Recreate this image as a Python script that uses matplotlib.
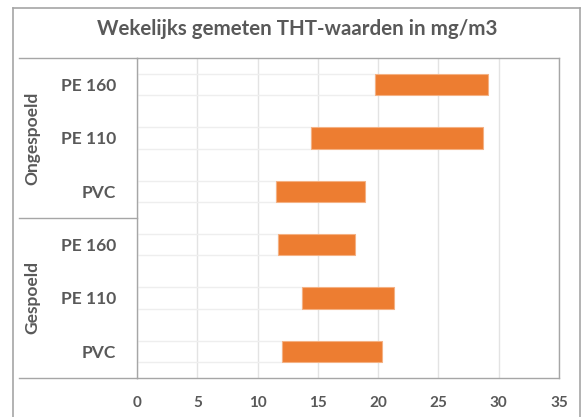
import numpy as np
import matplotlib
matplotlib.use("Agg")
import matplotlib.pyplot as plt
from matplotlib.lines import Line2D
from matplotlib.transforms import blended_transform_factory

# data, top to bottom
categories = ["PE 160", "PE 110", "PVC", "PE 160", "PE 110", "PVC"]
groups = ["Ongespoeld", "Gespoeld"]
low = [19.7, 14.4, 11.5, 11.7, 13.7, 12.0]
high = [29.1, 28.7, 18.9, 18.1, 21.3, 20.3]
xticks = [0, 5, 10, 15, 20, 25, 30, 35]

W, H = 581, 417
txt = "#595959"
line_col = "#a6a6a6"
orange = "#ED7D31"

plt.rcParams['font.family'] = ['Lato', 'DejaVu Sans']

fig = plt.figure(figsize=(W / 100, H / 100), dpi=100)
fig.patch.set_facecolor("white")

# plot area in pixels
x0, x1, y0, y1 = 137, 559, 58, 378
ax = fig.add_axes([x0 / W, 1 - y1 / H, (x1 - x0) / W, (y1 - y0) / H])

y = np.arange(len(categories))
low = np.array(low)
high = np.array(high)

# invisible first segment (faint outline only)
ax.barh(y, low, height=0.4, facecolor="none", edgecolor="#eeeeee", linewidth=1, zorder=2)
ax.barh(y, high - low, left=low, height=0.4, color=orange, edgecolor="#f4b183",
        linewidth=0.8, zorder=3)

ax.set_xlim(0, 35)
ax.set_ylim(len(categories) - 0.5, -0.5)
ax.set_xticks(xticks)
ax.set_xticklabels([str(t) for t in xticks], fontsize=11, fontweight="bold", color=txt)
ax.set_yticks(y)
ax.set_yticklabels(categories, fontsize=12.5, fontweight="bold", color=txt)
ax.tick_params(axis="x", length=0, pad=13)
ax.tick_params(axis="y", length=0, pad=15)
ax.grid(axis="x", color="#e3e3e3", linewidth=1, zorder=0)
ax.set_axisbelow(True)
for s in ax.spines.values():
    s.set_color(line_col)
    s.set_linewidth(1)


def px_line(xs, ys, color=line_col, lw=1.2):
    fig.add_artist(Line2D([v / W for v in xs], [1 - v / H for v in ys],
                          transform=fig.transFigure, color=color, linewidth=lw))


# outer chart frame
px_line([12.5, 12.5], [418, 8])
px_line([12.5, 579.5], [8, 8])
px_line([579.5, 579.5], [8, 418])

# category axis group lines
px_line([19, x0], [y0, y0], lw=1)
px_line([19, x0], [218, 218], lw=1)
px_line([19, x0], [y1, y1], lw=1)

# group labels
tr = blended_transform_factory(fig.transFigure, ax.transData)
for i, g in enumerate(groups):
    ax.text(32 / W, 1 + 3 * i, g, transform=tr, rotation=90, ha="center", va="center",
            fontsize=12.5, fontweight="bold", color=txt)

fig.text(297 / W, 1 - 29 / H, "Wekelijks gemeten THT-waarden in mg/m3", ha="center",
         va="center", fontsize=14.8, fontweight="bold", color=txt)

fig.savefig("out.png", dpi=100, facecolor="white")
